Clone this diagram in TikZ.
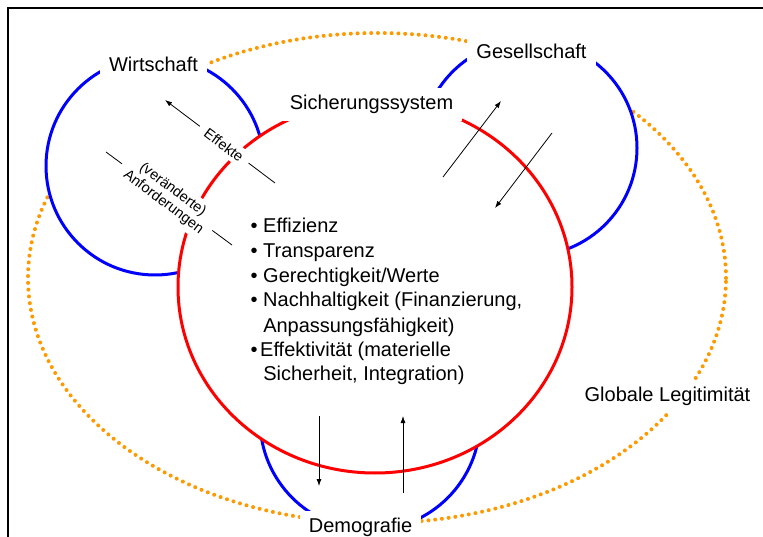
\documentclass[tikz,border=0pt]{standalone}
\usepackage{fontspec}
\setmainfont{Liberation Sans}
\usetikzlibrary{arrows.meta}
\definecolor{dotorange}{HTML}{FF9900}
\definecolor{ringblue}{HTML}{0000FF}
\definecolor{ringred}{HTML}{FF0000}
\begin{document}
\begin{tikzpicture}[x=1pt,y=-1pt,
  frameline/.style={line width=2.4pt,black},
  orangedots/.style={dotorange,line width=4pt,line cap=round,dash pattern=on 0pt off 6.8pt},
  bluering/.style={ringblue,line width=3pt,fill=white},
  redring/.style={ringred,line width=3pt,fill=white},
  arr/.style={black,line width=0.8pt,-{Latex[length=7pt,width=5pt]}},
  plainline/.style={black,line width=0.8pt},
  lab/.style={font=\fontsize{20}{24}\selectfont,fill=white,inner xsep=9pt,inner ysep=7pt,text height=14.5pt,text depth=4.5pt,anchor=base},
  small/.style={font=\fontsize{14.5}{15.5}\selectfont,fill=white,inner xsep=8pt,inner ysep=4pt,rotate=-37,align=center},
  listline/.style={font=\fontsize{20}{24}\selectfont,inner sep=0pt,anchor=base west}
]
\useasboundingbox (0,0) rectangle (763,537);
% frame
\coordinate (frBL) at (8,545);
\coordinate (frTL) at (8,7.8);
\coordinate (frTR) at (775,7.8);
\draw[frameline] (frBL) -- (frTL) -- (frTR);
% global legitimacy ellipse
\draw[orangedots] (377,278) ellipse [x radius=349pt,y radius=245pt];
% blue rings
\draw[bluering] (155,166) circle [radius=109pt];
\draw[bluering] (529,148) circle [radius=108pt];
\draw[bluering] (370,420) circle [radius=110pt];
% red ellipse
\draw[redring] (375,287) ellipse [x radius=197pt,y radius=186pt];
% arrows Wirtschaft
\coordinate (effTail) at (275,183);
\coordinate (effTip) at (165,100);
\draw[arr] (effTail) -- (effTip);
\node[small] (effekte) at (224,145) {Effekte};
\coordinate (anfA) at (106,152);
\coordinate (anfB) at (232,245);
\draw[plainline] (anfA) -- (anfB);
\node[small] (anf) at (168,196) {(veränderte)\\Anforderungen};
% arrows Gesellschaft
\coordinate (gUpTail) at (443,177);
\coordinate (gUpTip) at (501,101);
\draw[arr] (gUpTail) -- (gUpTip);
\coordinate (gDnTail) at (552,133);
\coordinate (gDnTip) at (495,208);
\draw[arr] (gDnTail) -- (gDnTip);
% arrows Demografie
\coordinate (dDnTail) at (319,416);
\coordinate (dDnTip) at (319,486);
\draw[arr] (dDnTail) -- (dDnTip);
\coordinate (dUpTail) at (403,493);
\coordinate (dUpTip) at (403,416);
\draw[arr] (dUpTail) -- (dUpTip);
% labels
\node[lab] (wirt) at (153.5,72) {Wirtschaft};
\node[lab] (gesell) at (531.5,59) {Gesellschaft};
\node[lab] (sich) at (371.5,110) {Sicherungssystem};
\node[lab] (demo) at (360.5,532) {Demografie};
\node[lab] (glob) at (667.5,401) {Globale Legitimität};
% list
\node[listline] (l1) at (250.5,233) {• Effizienz};
\node[listline] (l2) at (250.5,258) {• Transparenz};
\node[listline] (l3) at (250.5,283) {• Gerechtigkeit/Werte};
\node[listline] (l4) at (250.5,307) {• Nachhaltigkeit (Finanzierung,};
\node[listline] (l5) at (250.5,332) {\hphantom{• }Anpassungsfähigkeit)};
\node[listline] (l6) at (250.5,356) {•\kern2.5pt Effektivität (materielle};
\node[listline] (l7) at (250.5,380) {\hphantom{• }Sicherheit, Integration)};
\end{tikzpicture}
\end{document}
